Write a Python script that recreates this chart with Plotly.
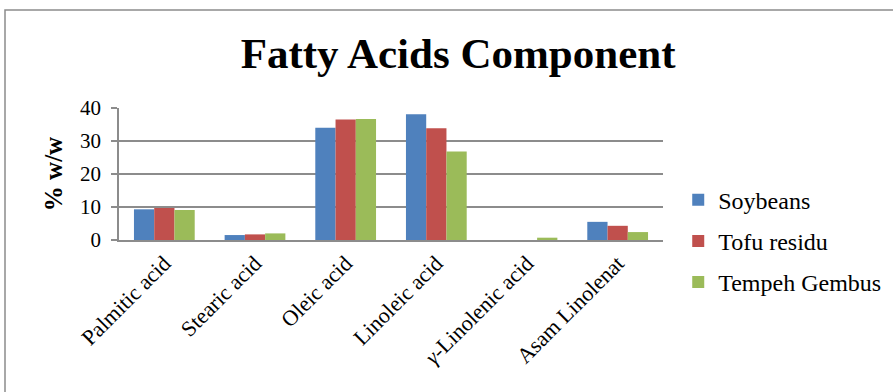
import plotly.graph_objects as go

categories = ["Palmitic acid", "Stearic acid", "Oleic acid", "Linoleic acid",
              "<i>γ</i>-Linolenic acid", "Asam Linolenat"]
soybeans = [9.3, 1.5, 34.0, 38.1, 0.0, 5.5]
tofu_residu = [9.7, 1.7, 36.5, 33.9, 0.0, 4.3]
tempeh_gembus = [9.1, 2.0, 36.7, 26.8, 0.7, 2.4]

series = [
    ("Soybeans", soybeans, "#4F81BD"),
    ("Tofu residu", tofu_residu, "#C0504D"),
    ("Tempeh Gembus", tempeh_gembus, "#9BBB59"),
]

font_family = "Liberation Serif, Times New Roman, serif"

fig = go.Figure()
for name, vals, color in series:
    fig.add_trace(go.Bar(
        x=categories, y=vals, name=name, legendgroup=name,
        marker=dict(color=color, line=dict(width=0)),
    ))

fig.update_layout(
    width=893, height=392,
    paper_bgcolor="white", plot_bgcolor="white",
    margin=dict(l=119, r=230, t=108, b=152),
    font=dict(family=font_family, size=20, color="black"),
    barmode="group", bargap=0.33, bargroupgap=0,
    title=dict(text="<b>Fatty Acids Component</b>", x=0.513, xanchor="center",
               y=0.865, yanchor="middle",
               font=dict(family=font_family, size=43, color="black")),
    legend=dict(xref="container", yref="container",
                x=0.7595, xanchor="left", y=0.385, yanchor="middle",
                traceorder="grouped", tracegroupgap=7,
                font=dict(family=font_family, size=24, color="black"),
                itemwidth=30, bgcolor="rgba(0,0,0,0)"),
    showlegend=True,
)

fig.update_yaxes(
    range=[0, 40], dtick=10, showgrid=True, gridcolor="#8C8C8C", gridwidth=1.5,
    showline=True, linecolor="#8C8C8C", linewidth=1.5,
    ticks="outside", ticklen=6, tickcolor="#8C8C8C", tickwidth=1.5,
    ticklabelstandoff=6,
    tickfont=dict(family=font_family, size=21), zeroline=False,
    title=dict(text="<b>% w/w</b>", font=dict(family=font_family, size=25),
               standoff=10),
)
fig.update_xaxes(
    showline=True, linecolor="#8C8C8C", linewidth=1.5,
    tickangle=-45, tickfont=dict(family=font_family, size=22), ticks="",
)

# outer chart frame
fig.add_shape(type="rect", xref="paper", yref="paper",
              x0=(5 - 119) / 544, x1=(900 - 119) / 544,
              y0=-(400 - 240) / 132, y1=(240 - 10) / 132,
              line=dict(color="#8C8C8C", width=1.5), fillcolor="rgba(0,0,0,0)",
              layer="below")

fig.write_html("out.html")
